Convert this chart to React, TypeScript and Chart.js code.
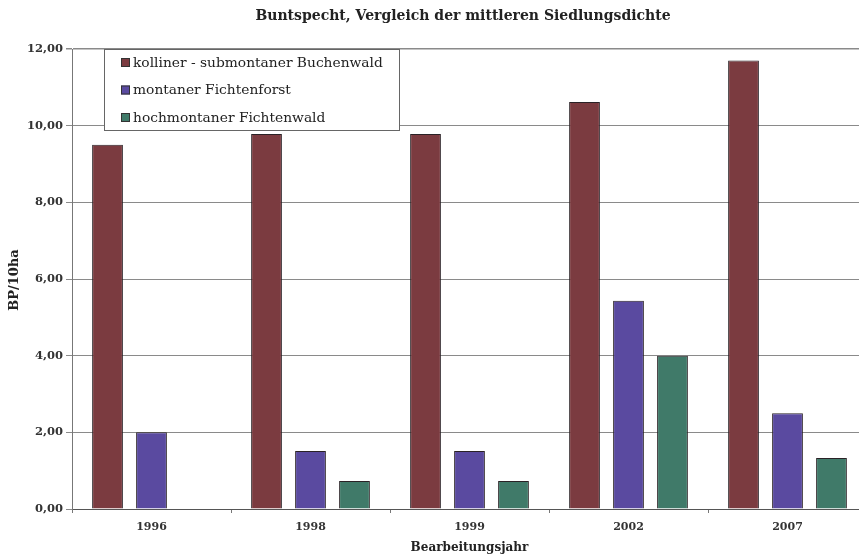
import React, { useEffect, useRef } from "react";
import { Chart, registerables } from "chart.js";

Chart.register(...registerables);

const years = ["1996", "1998", "1999", "2002", "2007"];
const seriesNames = [
  "kolliner - submontaner Buchenwald",
  "montaner Fichtenforst",
  "hochmontaner Fichtenwald",
];
const buchenwald = [9.5, 9.78, 9.78, 10.62, 11.7];
const fichtenforst = [2.0, 1.51, 1.51, 5.43, 2.5];
const fichtenwald = [null, 0.73, 0.73, 4.0, 1.33];
const yTicks = [0, 2, 4, 6, 8, 10, 12];

const colors = ["#7b3b40", "#5a4aa0", "#407a69"];
const serif = "'DejaVu Serif', 'Liberation Serif', serif";

const overlay = {
  id: "overlay",
  afterDraw(chart: any) {
    const { ctx, chartArea } = chart;
    ctx.save();
    ctx.fillStyle = "#222";
    ctx.textBaseline = "middle";
    ctx.textAlign = "center";
    ctx.font = `bold 14px ${serif}`;
    ctx.fillText("Buntspecht, Vergleich der mittleren Siedlungsdichte", 463, 16);

    ctx.font = `bold 12px ${serif}`;
    ctx.fillText("Bearbeitungsjahr", (chartArea.left + chartArea.right) / 2, 548);

    ctx.save();
    ctx.translate(15, 280);
    ctx.rotate(-Math.PI / 2);
    ctx.font = `bold 13px ${serif}`;
    ctx.fillText("BP/10ha", 0, 0);
    ctx.restore();

    // legend box inside the plot
    const bx = 104, by = 49, bw = 295, bh = 81;
    ctx.fillStyle = "#fff";
    ctx.fillRect(bx, by, bw, bh);
    ctx.strokeStyle = "#666";
    ctx.lineWidth = 1;
    ctx.strokeRect(bx + 0.5, by + 0.5, bw, bh);
    ctx.textAlign = "left";
    ctx.font = `13.8px ${serif}`;
    chart.data.datasets.forEach((ds: any, i: number) => {
      const cy = 63 + i * 27.5;
      ctx.fillStyle = ds.backgroundColor;
      ctx.fillRect(121, cy - 5, 9, 9);
      ctx.strokeStyle = "#333";
      ctx.strokeRect(121.5, cy - 4.5, 8, 8);
      ctx.fillStyle = "#222";
      ctx.fillText(ds.label, 133, cy);
    });
    ctx.restore();
  },
};

export default function App() {
  const ref = useRef<HTMLCanvasElement>(null);
  useEffect(() => {
    if (!ref.current) return;
    const chart = new Chart(ref.current, {
      type: "bar",
      data: {
        labels: years,
        datasets: [buchenwald, fichtenforst, fichtenwald].map((d, i) => ({
          label: seriesNames[i],
          data: d,
          backgroundColor: colors[i],
          borderColor: "#2a2226",
          borderWidth: 1,
          categoryPercentage: 0.83,
          barPercentage: 0.7,
        })),
      },
      options: {
        animation: false,
        responsive: false,
        layout: { padding: { top: 49, right: 13, left: 0, bottom: 0 } },
        plugins: { legend: { display: false }, title: { display: false }, tooltip: { enabled: false } },
        scales: {
          x: {
            afterFit: (s: any) => { s.height = 49; },
            grid: { drawOnChartArea: false, drawTicks: true, tickLength: 4, color: "#777" },
            border: { color: "#555", width: 1 },
            ticks: { color: "#333", font: { family: serif, size: 11, weight: "bold" }, padding: 8 },
          },
          y: {
            min: 0,
            max: 12,
            afterFit: (s: any) => { s.width = 72; },
            afterBuildTicks: (s: any) => { s.ticks = yTicks.map((v) => ({ value: v })); },
            grid: { color: "#8a8a8a", tickLength: 6, lineWidth: (c: any) => (c.tick && c.tick.value === 12 ? 1.5 : 1) },
            border: { color: "#777", width: 1 },
            ticks: {
              color: "#333",
              font: { family: serif, size: 11.5, weight: "bold" },
              padding: 3,
              callback: (v: any) => Number(v).toFixed(2).replace(".", ","),
            },
          },
        },
      },
      plugins: [overlay],
    });
    return () => chart.destroy();
  }, []);
  return (
    <div style={{ position: "fixed", left: 0, top: 0, width: 859, height: 558, overflow: "hidden", background: "#fff" }}>
      <canvas ref={ref} width={880} height={558} style={{ display: "block" }} />
    </div>
  );
}
